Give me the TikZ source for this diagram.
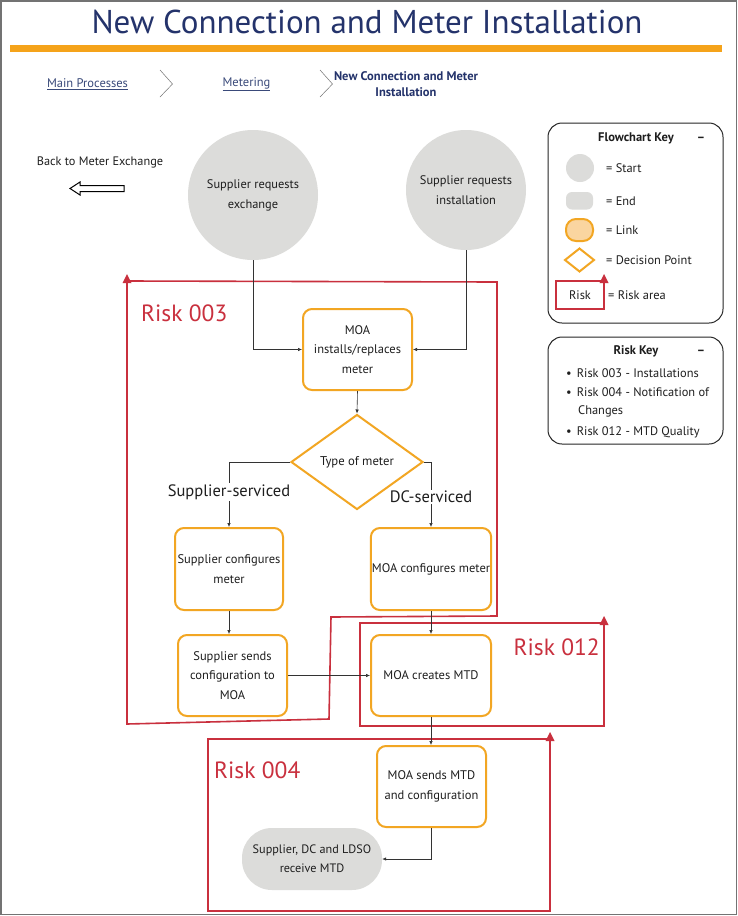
\documentclass[tikz,border=0pt]{standalone}
\usepackage{fontspec}
\setmainfont{PT Sans}
\usetikzlibrary{shapes.geometric,arrows.meta}
\definecolor{navy}{HTML}{24336B}
\definecolor{linkblue}{HTML}{3A4A7A}
\definecolor{barorange}{HTML}{F5A31A}
\definecolor{boxorange}{HTML}{F2A623}
\definecolor{startgray}{HTML}{DCDCDA}
\definecolor{riskred}{HTML}{C9303E}
\definecolor{linkfill}{HTML}{FAD5A0}
\definecolor{txt}{HTML}{1E1E1E}
\tikzset{
  startnode/.style={circle, fill=startgray, draw=none, align=center, inner sep=0pt, text=txt, font=\fontsize{12.4}{20}\selectfont},
  procbox/.style={rectangle, rounded corners=9pt, draw=boxorange, line width=2pt, fill=white, align=center, inner sep=1pt, text=txt, font=\fontsize{12.5}{19.5}\selectfont},
  decision/.style={diamond, draw=boxorange, line width=2pt, fill=white, inner sep=0pt, text=txt, font=\fontsize{12.7}{14}\selectfont},
  endnode/.style={rectangle, rounded corners=30pt, fill=startgray, draw=none, align=center, text=txt, font=\fontsize{12.2}{19}\selectfont},
  conn/.style={draw=black!80, line width=0.6pt, -{Latex[length=4pt,width=3.5pt]}},
  riskline/.style={draw=riskred, line width=1.6pt},
  risklabel/.style={text=riskred, font=\fontsize{23.5}{26}\selectfont, inner sep=0pt},
  branchlabel/.style={fill=white, text=txt, font=\fontsize{16.5}{19}\selectfont, inner sep=1pt},
  keybox/.style={draw=black!85, line width=1pt, rounded corners=14pt},
  keytext/.style={text=txt, font=\fontsize{12.4}{15}\selectfont, anchor=west, inner sep=0pt},
  keytitle/.style={text=txt, font=\bfseries\fontsize{12.5}{15}\selectfont, inner sep=0pt},
  crumb/.style={text=linkblue, font=\fontsize{12.5}{15}\selectfont, inner sep=0pt},
  chevron/.style={draw=black!55, line width=0.5pt},
}
\newcommand{\risktri}[2]{\fill[riskred] (#1-4.5,#2+2) -- (#1,#2-7) -- (#1+4.5,#2+2) -- cycle;}
\begin{document}
\begin{tikzpicture}[x=1pt,y=-1pt]
\useasboundingbox (0,0) rectangle (738,916);
\fill[white] (0,0) rectangle (738,916);
\draw[black!55, line width=1.5pt] (0.75,0.75) rectangle (736.5,914.5);

% title
\node[text=navy, font=\fontsize{33}{36}\selectfont, inner sep=0pt] (title) at (367,22) {New Connection and Meter Installation};
\fill[barorange] (10,45) rectangle (722,51.5);

% breadcrumbs
\node[crumb] (crumb1) at (87.5,84) {\underline{Main Processes}};
\draw[chevron] (160,70) -- (172.5,84) -- (160,97);
\node[crumb] (crumb2) at (246.5,84) {\underline{Metering}};
\draw[chevron] (320,70) -- (332.5,84) -- (320,97);
\node[crumb, text=navy, font=\bfseries\fontsize{12.5}{16}\selectfont, align=center] (crumb3) at (406,84) {New Connection and Meter\\Installation};

% back link
\node[text=txt, font=\fontsize{12.3}{14}\selectfont, inner sep=0pt] (back) at (100,162) {Back to Meter Exchange};
\draw[black, line width=1pt, fill=white] (124,185.5) -- (80,185.5) -- (80,182) -- (70,188.5) -- (80,195) -- (80,191.5) -- (124,191.5) -- cycle;

% risk areas
\draw[riskline] (127,281) -- (497,282) -- (497,616) -- (331,617) -- (329,719) -- (127,724) -- cycle;
\risktri{127}{281}
\node[risklabel, anchor=west] (r003) at (141,313) {Risk 003};
\draw[riskline] (360,623) rectangle (604,726);
\risktri{604}{623}
\node[risklabel, anchor=east] (r012) at (600,647) {Risk 012};
\draw[riskline] (208,739) rectangle (550,911);
\risktri{550}{739}
\node[risklabel, anchor=west] (r004) at (214,770) {Risk 004};

% start nodes
\node[startnode, minimum size=130pt] (c1) at (253,195) {Supplier requests\\exchange};
\node[startnode, minimum size=120pt] (c2) at (466,190) {Supplier requests\\installation};

% process nodes
\node[procbox, minimum width=109pt, minimum height=81pt] (moa1) at (357.5,349.5) {MOA\\installs/replaces\\meter};
\node[decision, minimum width=132pt, minimum height=95pt] (diam) at (357,462) {Type of meter};
\node[procbox, minimum width=108pt, minimum height=82pt] (supconf) at (229,569) {Supplier configures\\meter};
\node[procbox, minimum width=120pt, minimum height=82pt] (moaconf) at (431,569) {MOA configures meter};
\node[procbox, minimum width=109pt, minimum height=81pt] (supsend) at (232.5,675.5) {Supplier sends\\configuration to\\MOA};
\node[procbox, minimum width=120pt, minimum height=81pt] (moacreate) at (431,675.5) {MOA creates MTD};
\node[procbox, minimum width=109pt, minimum height=81pt] (moasend) at (431.5,786.5) {MOA sends MTD\\and configuration};
\node[endnode, minimum width=140pt, minimum height=62pt] (endn) at (312,859) {Supplier, DC and LDSO\\receive MTD};

% connectors
\draw[conn] (c1.south) |- (moa1.west);
\draw[conn] (c2.south) |- (moa1.east);
\draw[conn] (moa1.south) -- (diam.north);
\draw[conn] (diam.west) -| (supconf.north);
\draw[conn] (diam.east) -| (moaconf.north);
\draw[conn] (supconf.south) -- (supconf.south |- supsend.north);
\draw[conn] (moaconf.south) -- (moacreate.north);
\draw[conn] (supsend.east) -- (moacreate.west);
\draw[conn] (moacreate.south) -- (moacreate.south |- moasend.north);
\draw[conn] (moasend.south) |- (endn.east);

\node[branchlabel] (lsup) at (229,492) {Supplier-serviced};
\node[branchlabel] (ldc) at (431,497) {DC-serviced};

% flowchart key
\draw[keybox] (548,123) rectangle (723,323);
\node[keytitle] (fktitle) at (636,138) {Flowchart Key};
\node[keytitle] (fkdash) at (701,139) {--};
\fill[startgray] (580,168) circle (14);
\node[keytext] (kstart) at (606,168) {= Start};
\fill[startgray, rounded corners=6pt] (566,192) rectangle (593,209.5);
\node[keytext] (kend) at (606,201) {= End};
\draw[draw=boxorange, fill=linkfill, line width=2pt, rounded corners=10pt] (566,219) rectangle (593,241);
\node[keytext] (klink) at (606,230) {= Link};
\draw[draw=boxorange, line width=2pt, fill=white] (565,260) -- (579.5,248.5) -- (594,260) -- (579.5,271.5) -- cycle;
\node[keytext] (kdec) at (606,260) {= Decision Point};
\draw[draw=riskred, line width=1.2pt] (556,281) rectangle (604,309);
\risktri{604}{281}
\node[text=txt, font=\fontsize{12.4}{15}\selectfont, inner sep=0pt] (krisk) at (580,295) {Risk};
\node[keytext] (krisk2) at (608,295) {= Risk area};

% risk key
\draw[keybox] (548,337) rectangle (723,444);
\node[keytitle] (rktitle) at (636,351) {Risk Key};
\node[keytitle] (rkdash) at (701,352) {--};
\node[keytext] (b1) at (566,373) {\textbullet\hspace{5pt}Risk 003 - Installations};
\node[keytext] (b2) at (566,392) {\textbullet\hspace{5pt}Risk 004 - Notification of};
\node[keytext] (b2b) at (578,411) {Changes};
\node[keytext] (b3) at (566,432) {\textbullet\hspace{5pt}Risk 012 - MTD Quality};
\end{tikzpicture}
\end{document}
